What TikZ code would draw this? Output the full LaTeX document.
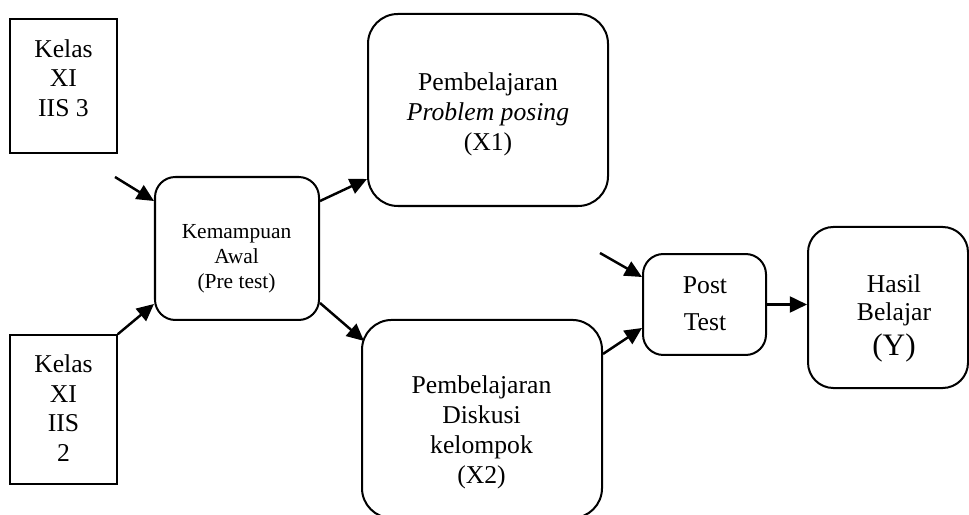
\documentclass[tikz,border=0pt]{standalone}
\usepackage{fontspec}
\setmainfont{Liberation Serif}
\usetikzlibrary{arrows.meta,calc}

\begin{document}
\begin{tikzpicture}[x=1.575mm,y=1.575mm]
\tikzset{
  kotak/.style={draw=black,line width=0.7pt,inner sep=0pt},
  bulat/.style={draw=black,line width=0.9pt,inner sep=0pt,rounded corners=#1},
  bulat/.default=3.2mm,
  panah/.style={line width=1.1pt,-{Triangle[length=2.7mm,width=2.5mm]}},
  isi/.style={align=center,inner sep=0pt,font=\fontsize{11.5}{13.2}\selectfont}
}
\clip (0,0) rectangle (96.9,-51.5);
% kotak-kotak
\node [kotak,minimum width=16.85mm,minimum height=21.1mm] (kelas3) at (6.35,-8.6) {};
\node [kotak,minimum width=16.85mm,minimum height=23.47mm] (kelas2) at (6.35,-40.95) {};
\node [bulat,minimum width=25.83mm,minimum height=22.52mm] (awal) at (23.7,-24.85) {};
\node [bulat=4.7mm,minimum width=37.8mm,minimum height=30.24mm] (problem) at (48.8,-11) {};
\node [bulat=4.7mm,minimum width=37.8mm,minimum height=31.2mm] (diskusi) at (48.2,-41.9) {};
\node [bulat,minimum width=19.37mm,minimum height=15.9mm] (post) at (70.45,-30.45) {};
\node [bulat=4mm,minimum width=25.2mm,minimum height=25.36mm] (hasil) at (88.8,-30.75) {};
% tulisan
\node [isi] (kelas3txt) at (6.35,-7.8) {Kelas\\XI\\IIS 3};
\node [isi] (kelas2txt) at (6.35,-40.8) {Kelas\\XI\\IIS\\2};
\node [isi,font=\fontsize{9.6}{11.2}\selectfont] (awaltxt) at (23.65,-25.85) {Kemampuan\\Awal\\(Pre test)};
\node [isi,font=\fontsize{11.5}{13.4}\selectfont] (problemtxt) at (48.8,-11.45) {Pembelajaran\\\textit{Problem posing}\\(X1)};
\node [isi,font=\fontsize{11.5}{13.4}\selectfont] (diskusitxt) at (48.15,-43.2) {Pembelajaran\\Diskusi\\kelompok\\(X2)};
\node [isi,font=\fontsize{11.5}{16.5}\selectfont] (posttxt) at (70.5,-30.35) {Post\\Test};
\node [isi,font=\fontsize{11.5}{12.5}\selectfont] (hasiltxt) at (89.4,-31.85) {Hasil\\Belajar\\[3pt]\fontsize{14}{14}\selectfont(Y)};
% panah
\coordinate (masuk1) at (11.5,-17.7);
\coordinate (masuk2) at (60,-25.3);
\draw [panah] (masuk1) -- ($(awal.north west)+(0,-2.5)$);
\draw [panah] (kelas2.north east) -- ($(awal.south west)+(0,1.7)$);
\draw [panah] ($(awal.north east)+(0,-2.5)$) -- ($(problem.south west)+(0,2.8)$);
\draw [panah] ($(awal.south east)+(0,1.8)$) -- ($(diskusi.north west)+(0.3,-2.2)$);
\draw [panah] ($(diskusi.north east)+(0,-3.5)$) -- ($(post.south west)+(0,2.8)$);
\draw [panah] (masuk2) -- ($(post.north west)+(0,-2.4)$);
\draw [panah] (post.east) -- (post.east -| hasil.west);
\end{tikzpicture}
\end{document}
